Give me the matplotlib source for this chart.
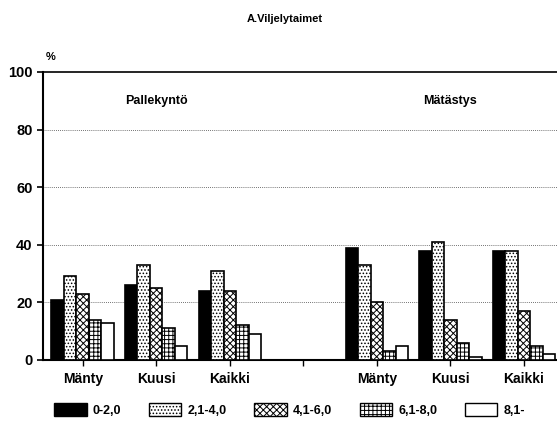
import numpy as np
import matplotlib.pyplot as plt
from matplotlib.patches import Patch

plt.rcParams['font.family'] = ['Liberation Sans', 'DejaVu Sans']
plt.rcParams['font.weight'] = 'bold'
plt.rcParams['hatch.linewidth'] = 0.7

# data
categories = ['Mänty', 'Kuusi', 'Kaikki', '', 'Mänty', 'Kuusi', 'Kaikki']
classes = ['0-2,0', '2,1-4,0', '4,1-6,0', '6,1-8,0', '8,1-']
s1 = [21, 26, 24, np.nan, 39, 38, 38]
s2 = [29, 33, 31, np.nan, 33, 41, 38]
s3 = [23, 25, 24, np.nan, 20, 14, 17]
s4 = [14, 11, 12, np.nan, 3, 6, 5]
s5 = [13, 5, 9, np.nan, 5, 1, 2]
series = [s1, s2, s3, s4, s5]

colors = ['black', 'white', 'white', 'white', 'white']
hatches = [None, '.....', 'xxxxx', '++++', None]

fig = plt.figure(figsize=(5.57, 4.30), dpi=100)
ax = fig.add_axes([0.0772, 0.1628, 0.9228, 0.6698])

x = np.arange(len(categories))
w = 0.17
for k, vals in enumerate(series):
    ax.bar(x + (k - 2) * w, vals, w, color=colors[k], hatch=hatches[k],
           edgecolor='black', linewidth=1.2, zorder=3)

ax.set_xlim(-0.54, 6.45)
ax.set_ylim(0, 100)
ax.set_yticks([0, 20, 40, 60, 80, 100])
ax.set_xticks(x)
ax.set_xticklabels(categories, fontsize=10, fontweight='bold')
ax.tick_params(axis='y', labelsize=10.5, width=1.2, length=4)
ax.tick_params(axis='x', width=1, length=4, pad=5)
for lab in ax.get_yticklabels():
    lab.set_fontweight('bold')

for v in [20, 40, 60, 80]:
    ax.axhline(v, color='#444444', linestyle=(0, (1, 1.5)), linewidth=0.6, zorder=1)
ax.axhline(100, color='black', linewidth=1.2, clip_on=False)

ax.spines['right'].set_visible(False)
ax.spines['top'].set_visible(False)
ax.spines['left'].set_linewidth(1.5)
ax.spines['bottom'].set_linewidth(1.5)

ax.text(1.0, 90, 'Pallekyntö', ha='center', va='center', fontsize=9, fontweight='bold')
ax.text(5.0, 90, 'Mätästys', ha='center', va='center', fontsize=9, fontweight='bold')
fig.text(0.082, 0.86, '%', fontsize=8, fontweight='bold')
fig.text(0.512, 0.955, 'A.Viljelytaimet', ha='center', va='center', fontsize=8, fontweight='bold')

handles = [Patch(facecolor=colors[k], hatch=hatches[k], edgecolor='black', linewidth=1.0)
           for k in range(5)]
fig.legend(handles, classes, loc='center', bbox_to_anchor=(0.52, 0.047), ncol=5,
           frameon=False, handlelength=2.6, handleheight=1.2,
           columnspacing=2.2, handletextpad=0.5, prop={'weight': 'bold', 'size': 9})

fig.savefig('out.png', dpi=100)
